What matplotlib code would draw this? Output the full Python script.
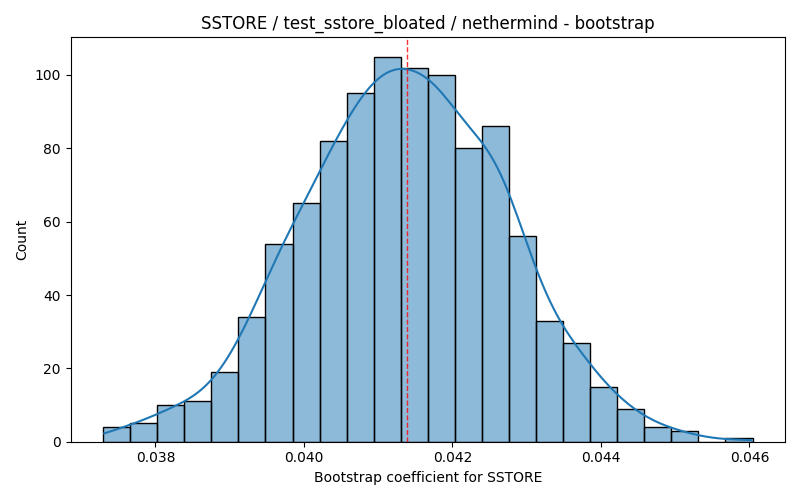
import numpy as np
import matplotlib
matplotlib.use("Agg")
import matplotlib.pyplot as plt
import seaborn as sns

# Histogram bin range and counts (24 bins)
bin_lo = 0.037296
bin_hi = 0.046042
counts = [4, 5, 10, 11, 19, 34, 54, 65, 82, 95, 105, 102, 100, 80, 86, 56,
          33, 27, 15, 9, 4, 3, 0, 1]
ref_value = 0.04139

title = "SSTORE / test_sstore_bloated / nethermind - bootstrap"
xlabel = "Bootstrap coefficient for SSTORE"
ylabel = "Count"

edges = np.linspace(bin_lo, bin_hi, len(counts) + 1)
centers = (edges[:-1] + edges[1:]) / 2
values = np.repeat(centers, counts)

fig, ax = plt.subplots(figsize=(8, 5), dpi=100)
sns.histplot(values, bins=edges, kde=True, ax=ax,
             kde_kws={"cut": 0.5, "bw_adjust": 0.97})
ax.axvline(ref_value, color="red", linestyle="--", linewidth=1, alpha=0.8)
ax.set_title(title)
ax.set_xlabel(xlabel)
ax.set_ylabel(ylabel)
fig.tight_layout()
fig.savefig("out.png")
